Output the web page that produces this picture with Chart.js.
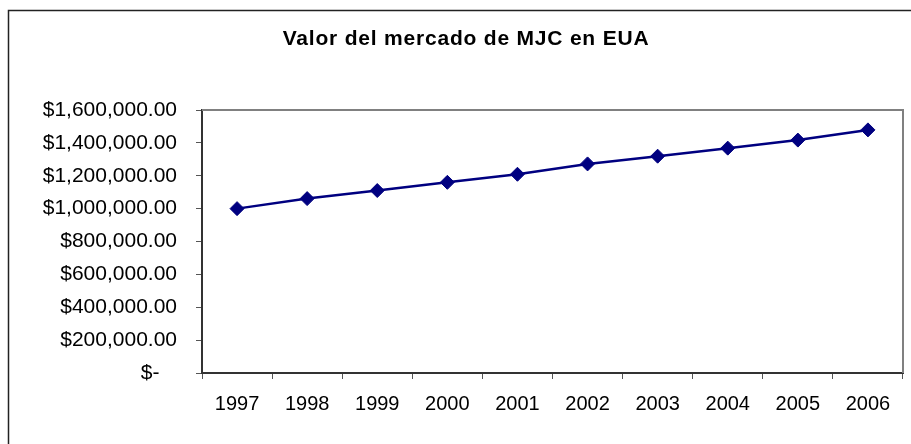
<!DOCTYPE html>
<html>
<head>
<meta charset="utf-8">
<script src="https://cdn.jsdelivr.net/npm/chart.js@4"></script>
<style>
  html, body { margin: 0; padding: 0; background: #fff; overflow: hidden; }
  #wrap { width: 911px; height: 444px; position: relative; }
</style>
</head>
<body>
<div id="wrap"><canvas id="marketChart"></canvas></div>
<script>
// Valor del mercado de MJC en EUA
const years = ['1997', '1998', '1999', '2000', '2001', '2002', '2003', '2004', '2005', '2006'];
const marketValues = [1000000, 1061000, 1110000, 1160000, 1209000, 1272000, 1319000, 1368000, 1417000, 1479000];
const yMin = 0;
const yMax = 1600000;
const yStep = 200000;
const chartTitle = 'Valor del mercado de MJC en EUA';

const fontFamily = '"Liberation Sans", Arial, sans-serif';

function moneyLabel(value) {
    if (value === 0) return '$-   ';
    return '$' + value.toLocaleString('en-US', { minimumFractionDigits: 2, maximumFractionDigits: 2 });
}

// Marco exterior, borde del área de trazado y título
const framePlugin = {
    id: 'frame',
    beforeDraw(chart) {
        const ctx = chart.ctx;
        ctx.save();
        ctx.fillStyle = '#fff';
        ctx.fillRect(0, 0, chart.width, chart.height);
        ctx.strokeStyle = '#222';
        ctx.lineWidth = 1.5;
        ctx.strokeRect(8.5, 10.5, chart.width + 20, chart.height + 20);
        ctx.restore();
    },
    afterDraw(chart) {
        const ctx = chart.ctx;
        const area = chart.chartArea;
        ctx.save();
        ctx.strokeStyle = '#808080';
        ctx.lineWidth = 2;
        ctx.beginPath();
        ctx.moveTo(area.left, area.top);
        ctx.lineTo(area.right, area.top);
        ctx.lineTo(area.right, area.bottom);
        ctx.stroke();

        ctx.fillStyle = '#000';
        ctx.font = 'bold 21px ' + fontFamily;
        ctx.letterSpacing = '0.8px';
        ctx.textAlign = 'center';
        ctx.textBaseline = 'middle';
        ctx.fillText(chartTitle, 466, 39);
        ctx.restore();
    }
};

const ctx = document.getElementById('marketChart').getContext('2d');
const marketChart = new Chart(ctx, {
    type: 'line',
    data: {
        labels: years,
        datasets: [{
            label: chartTitle,
            data: marketValues,
            borderColor: '#000080',
            backgroundColor: '#000080',
            borderWidth: 2.5,
            pointStyle: 'rectRot',
            pointRadius: 7,
            pointBorderWidth: 1,
            pointBackgroundColor: '#000080',
            pointBorderColor: '#000080',
            tension: 0,
            fill: false
        }]
    },
    options: {
        responsive: true,
        maintainAspectRatio: false,
        animation: false,
        layout: {
            padding: { top: 110, right: 7, bottom: 0, left: 0 }
        },
        plugins: {
            legend: { display: false },
            title: { display: false },
            tooltip: { enabled: false }
        },
        scales: {
            x: {
                offset: true,
                grid: {
                    offset: true,
                    drawOnChartArea: false,
                    color: '#555',
                    tickLength: 6,
                    tickWidth: 1
                },
                border: { color: '#333', width: 2 },
                ticks: {
                    color: '#000',
                    padding: 13,
                    maxRotation: 0,
                    font: { family: fontFamily, size: 20 }
                },
                afterFit(scale) {
                    scale.height = 71;
                }
            },
            y: {
                min: yMin,
                max: yMax,
                grid: {
                    drawOnChartArea: false,
                    color: '#555',
                    tickLength: 6,
                    tickWidth: 1
                },
                border: { color: '#333', width: 2 },
                ticks: {
                    stepSize: yStep,
                    color: '#000',
                    padding: 19,
                    font: { family: fontFamily, size: 21 },
                    callback: value => moneyLabel(value)
                },
                afterFit(scale) {
                    scale.width = 202;
                }
            }
        }
    },
    plugins: [framePlugin]
});
</script>
</body>
</html>
